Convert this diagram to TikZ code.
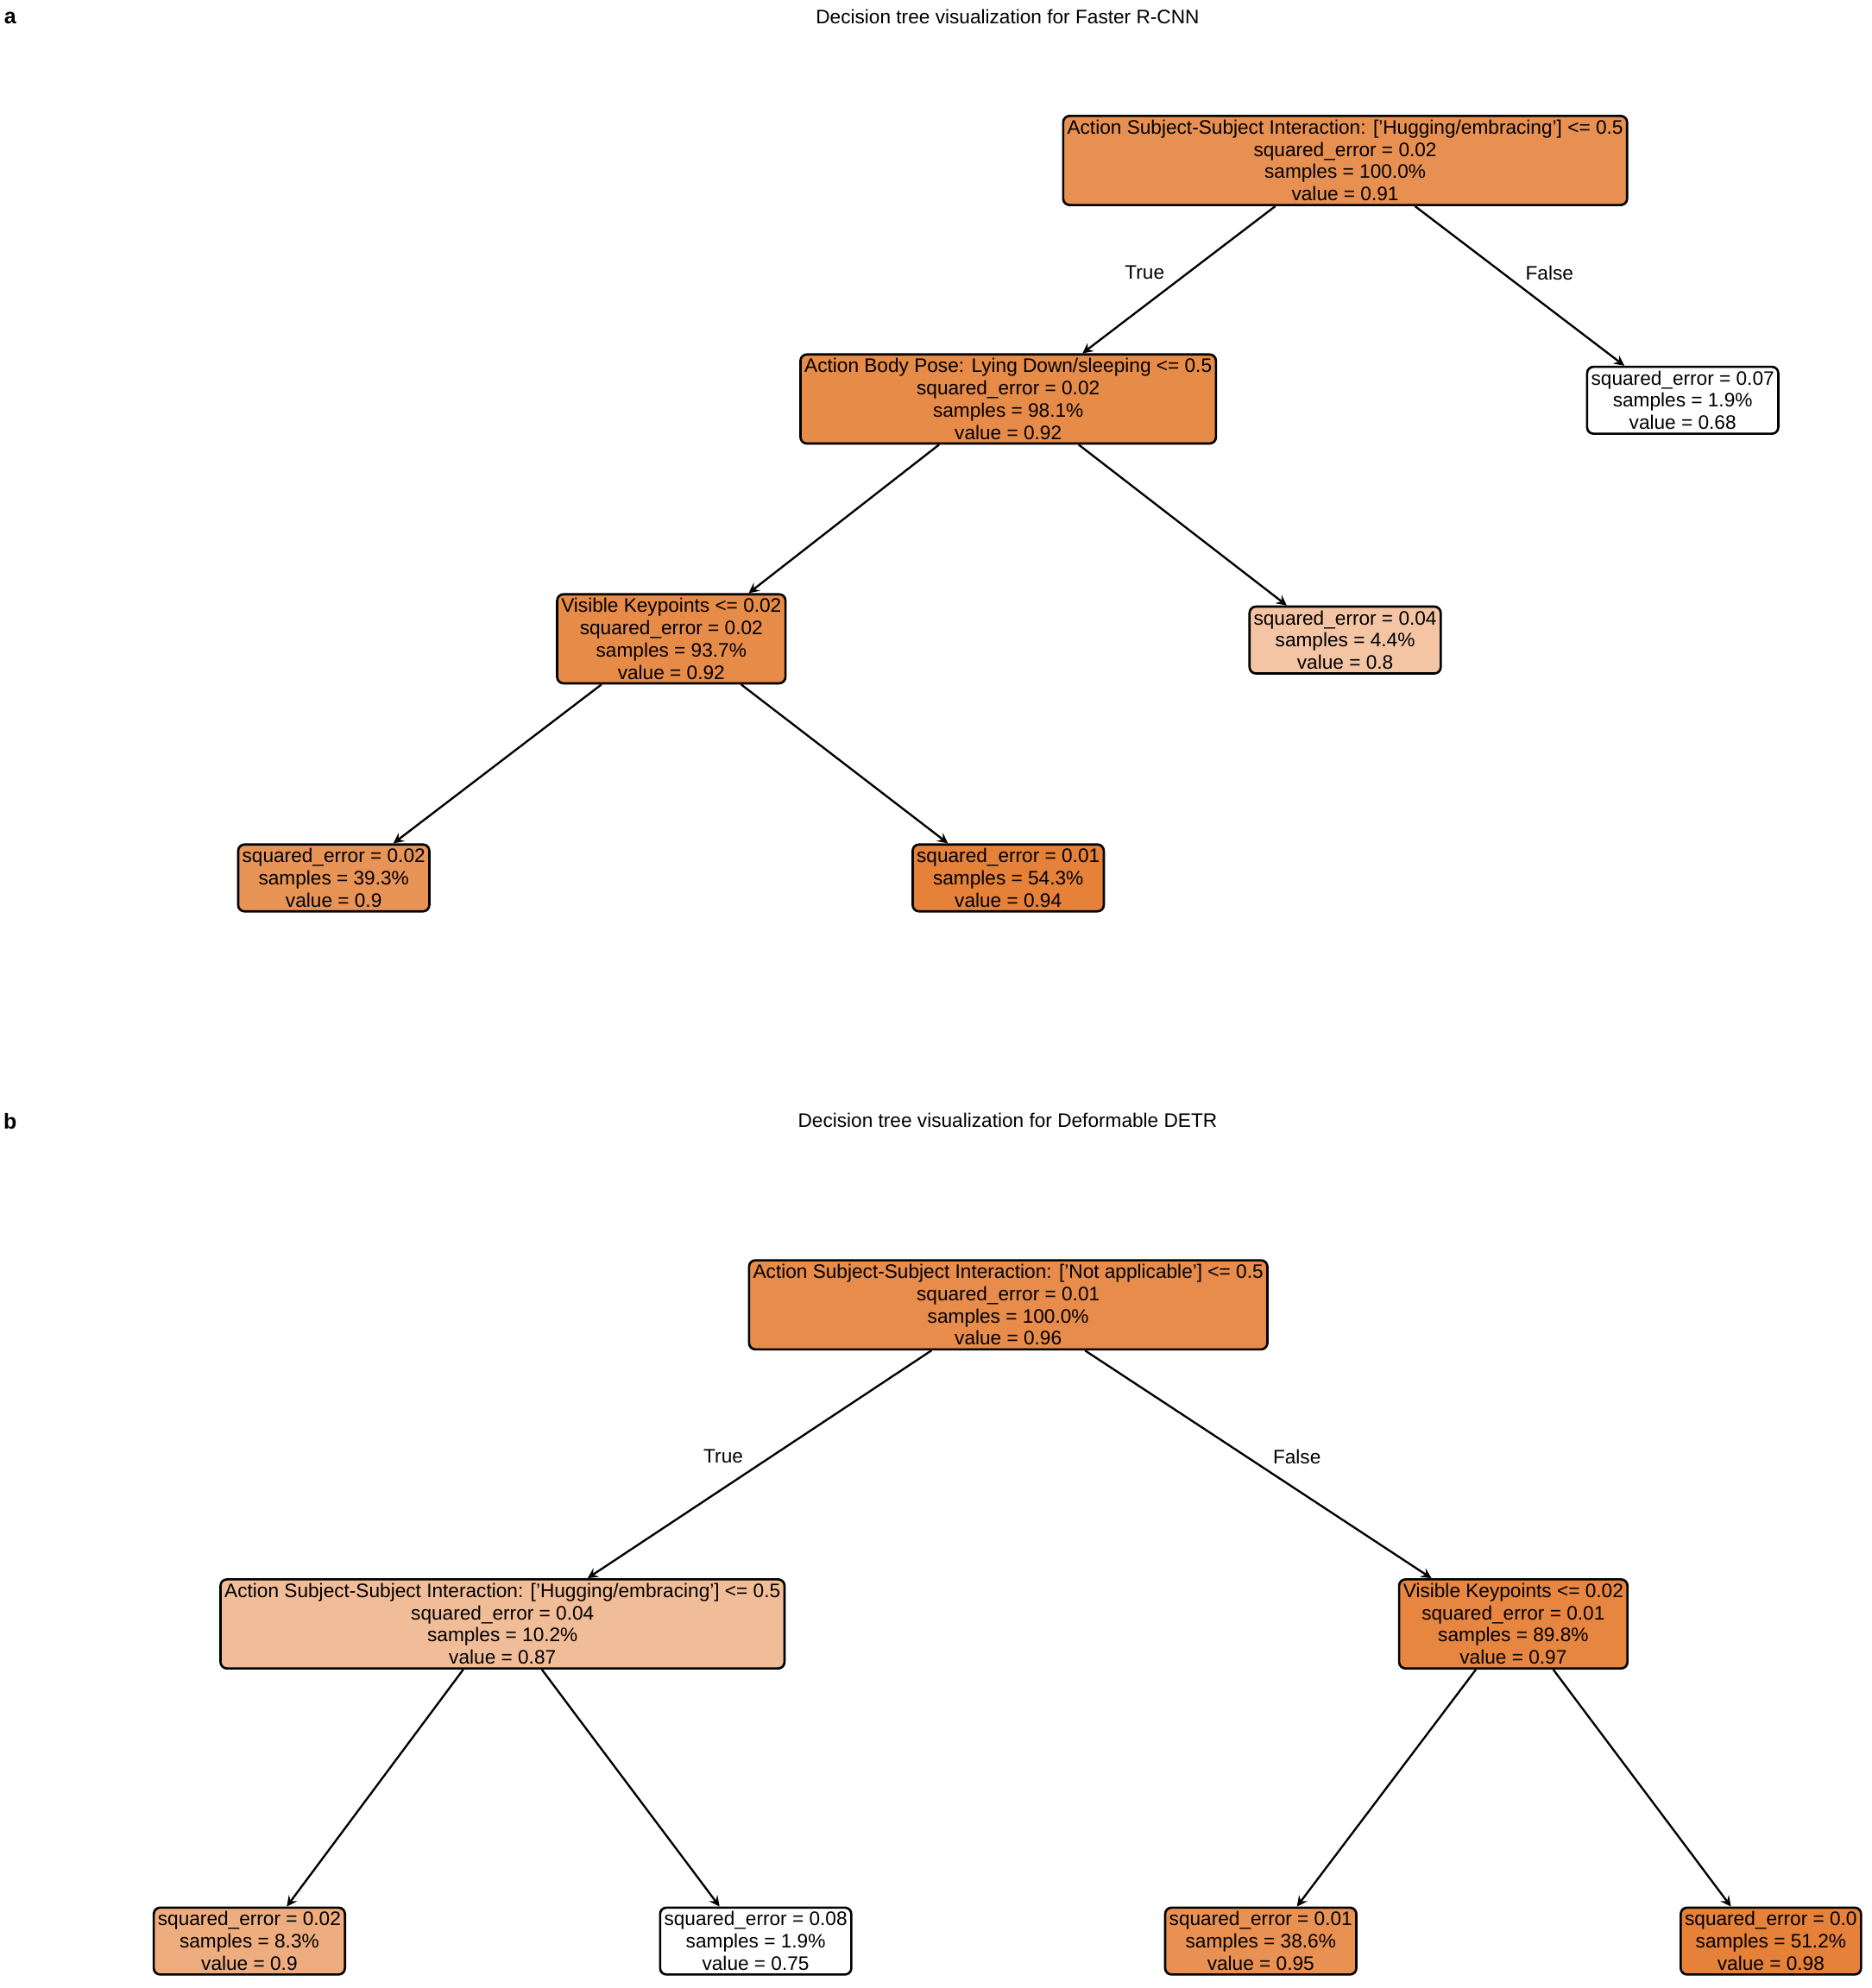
\documentclass[tikz,border=0pt]{standalone}
\usepackage{fontspec}
\setmainfont{Liberation Sans}
\begin{document}
\definecolor{sk}{HTML}{E58139}
\begin{tikzpicture}[x=0.5pt,y=-0.5pt,
  box/.style={draw,line width=0.9pt,rounded corners=2.5pt,align=center,inner sep=1.6pt,font=\fontsize{7.7}{8.75}\selectfont},
  lbl/.style={font=\fontsize{7.7}{9}\selectfont},
  ed/.style={->,line width=0.8pt,>=stealth}]
\useasboundingbox (0,0) rectangle (1475,1567);
\node[font=\bfseries\fontsize{8.5}{10}\selectfont] (la) at (8,14) {a};
\node[lbl] (ta) at (794,13) {Decision tree visualization for Faster R-CNN};
\node[font=\bfseries\fontsize{8.5}{10}\selectfont] (lb) at (8,884) {b};
\node[lbl] (tb) at (794,883) {Decision tree visualization for Deformable DETR};
% tree a
\node[box,fill=sk!88!white] (r) at (1060,126.5) {Action Subject-Subject Interaction: ['Hugging/embracing'] <= 0.5\\squared\_error = 0.02\\samples = 100.0\%\\value = 0.91};
\node[box,fill=sk!92!white] (n1) at (794.5,314.5) {Action Body Pose: Lying Down/sleeping <= 0.5\\squared\_error = 0.02\\samples = 98.1\%\\value = 0.92};
\node[box,fill=white] (f1) at (1326,315.5) {squared\_error = 0.07\\samples = 1.9\%\\value = 0.68};
\node[box,fill=sk!92!white] (n2) at (529,503.5) {Visible Keypoints <= 0.02\\squared\_error = 0.02\\samples = 93.7\%\\value = 0.92};
\node[box,fill=sk!46!white] (l2) at (1060,504.5) {squared\_error = 0.04\\samples = 4.4\%\\value = 0.8};
\node[box,fill=sk!85!white] (l3) at (263,692) {squared\_error = 0.02\\samples = 39.3\%\\value = 0.9};
\node[box,fill=sk] (l4) at (794.5,692) {squared\_error = 0.01\\samples = 54.3\%\\value = 0.94};
\draw[ed] ([xshift=-27.5pt]r.south) -- ([xshift=29.25pt]n1.north);
\draw[ed] ([xshift=27.5pt]r.south) -- ([xshift=-23pt]f1.north);
\draw[ed] ([xshift=-27.25pt]n1.south) -- ([xshift=30.5pt]n2.north);
\draw[ed] ([xshift=27.75pt]n1.south) -- ([xshift=-23pt]l2.north);
\draw[ed] ([xshift=-27.5pt]n2.south) -- ([xshift=23.5pt]l3.north);
\draw[ed] ([xshift=27.5pt]n2.south) -- ([xshift=-23.75pt]l4.north);
\node[lbl] (tt) at (902,215) {True};
\node[lbl] (ff) at (1221,215) {False};
% tree b
\node[box,fill=sk!91!white] (rb) at (794.5,1028.5) {Action Subject-Subject Interaction: ['Not applicable'] <= 0.5\\squared\_error = 0.01\\samples = 100.0\%\\value = 0.96};
\node[box,fill=sk!52!white] (lb1) at (396,1280) {Action Subject-Subject Interaction: ['Hugging/embracing'] <= 0.5\\squared\_error = 0.04\\samples = 10.2\%\\value = 0.87};
\node[box,fill=sk!96!white] (rb1) at (1192.5,1280) {Visible Keypoints <= 0.02\\squared\_error = 0.01\\samples = 89.8\%\\value = 0.97};
\node[box,fill=sk!65!white] (b1) at (196.5,1530) {squared\_error = 0.02\\samples = 8.3\%\\value = 0.9};
\node[box,fill=white] (b2) at (595.5,1530) {squared\_error = 0.08\\samples = 1.9\%\\value = 0.75};
\node[box,fill=sk!87!white] (b3) at (993.5,1530) {squared\_error = 0.01\\samples = 38.6\%\\value = 0.95};
\node[box,fill=sk] (b4) at (1395.5,1530) {squared\_error = 0.0\\samples = 51.2\%\\value = 0.98};
\draw[ed] ([xshift=-30.25pt]rb.south) -- ([xshift=33.5pt]lb1.north);
\draw[ed] ([xshift=30.25pt]rb.south) -- ([xshift=-32.25pt]rb1.north);
\draw[ed] ([xshift=-15.5pt]lb1.south) -- ([xshift=14.75pt]b1.north);
\draw[ed] ([xshift=15.5pt]lb1.south) -- ([xshift=-14.25pt]b2.north);
\draw[ed] ([xshift=-14.75pt]rb1.south) -- ([xshift=14.25pt]b3.north);
\draw[ed] ([xshift=15.75pt]rb1.south) -- ([xshift=-15.75pt]b4.north);
\node[lbl] (tb2) at (570,1148) {True};
\node[lbl] (fb2) at (1022,1148) {False};
\end{tikzpicture}
\end{document}
